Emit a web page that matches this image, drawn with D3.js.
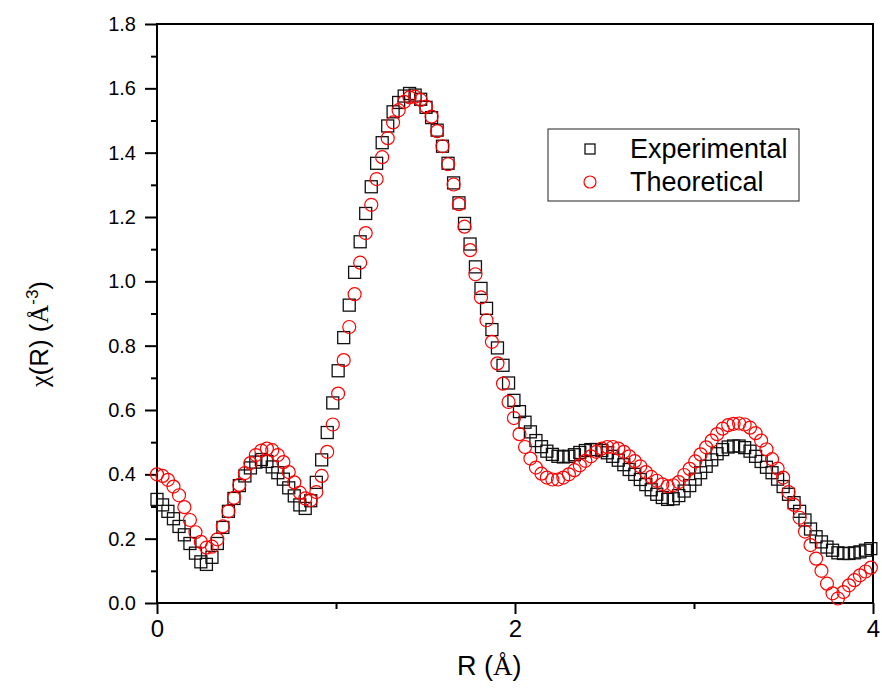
<!DOCTYPE html>
<html>
<head>
<meta charset="utf-8">
<script src="https://cdn.jsdelivr.net/npm/d3@7"></script>
<style>
  body { margin: 0; background: #fff; }
  svg { display: block; font-family: Arial, "Liberation Sans", sans-serif; }
</style>
</head>
<body>
<div id="chart"></div>
<script>
// R grid (Å)
var rValues = [
  0.000, 0.031, 0.061, 0.092, 0.123, 0.153, 0.184, 0.215, 0.245, 0.276,
  0.307, 0.337, 0.368, 0.399, 0.430, 0.460, 0.491, 0.522, 0.552, 0.583,
  0.614, 0.644, 0.675, 0.706, 0.736, 0.767, 0.798, 0.828, 0.859, 0.890,
  0.920, 0.951, 0.982, 1.012, 1.043, 1.074, 1.104, 1.135, 1.166, 1.197,
  1.227, 1.258, 1.289, 1.319, 1.350, 1.381, 1.411, 1.442, 1.473, 1.503,
  1.534, 1.565, 1.595, 1.626, 1.657, 1.687, 1.718, 1.749, 1.779, 1.810,
  1.841, 1.871, 1.902, 1.933, 1.964, 1.994, 2.025, 2.056, 2.086, 2.117,
  2.148, 2.178, 2.209, 2.240, 2.270, 2.301, 2.332, 2.362, 2.393, 2.424,
  2.454, 2.485, 2.516, 2.546, 2.577, 2.608, 2.638, 2.669, 2.700, 2.731,
  2.761, 2.792, 2.823, 2.853, 2.884, 2.915, 2.945, 2.976, 3.007, 3.037,
  3.068, 3.099, 3.129, 3.160, 3.191, 3.221, 3.252, 3.283, 3.313, 3.344,
  3.375, 3.405, 3.436, 3.467, 3.498, 3.528, 3.559, 3.590, 3.620, 3.651,
  3.682, 3.712, 3.743, 3.774, 3.804, 3.835, 3.866, 3.896, 3.927, 3.958,
  3.988
];

var experimental = [
  0.322, 0.305, 0.285, 0.262, 0.238, 0.212, 0.185, 0.155, 0.128, 0.120,
  0.142, 0.185, 0.235, 0.285, 0.325, 0.365, 0.395, 0.420, 0.438, 0.446,
  0.440, 0.423, 0.405, 0.385, 0.358, 0.333, 0.305, 0.294, 0.318, 0.375,
  0.445, 0.530, 0.622, 0.722, 0.825, 0.926, 1.028, 1.123, 1.211, 1.294,
  1.367, 1.431, 1.483, 1.527, 1.556, 1.576, 1.584, 1.579, 1.566, 1.541,
  1.509, 1.470, 1.420, 1.367, 1.306, 1.244, 1.180, 1.116, 1.045, 0.978,
  0.916, 0.850, 0.793, 0.739, 0.684, 0.630, 0.595, 0.562, 0.532, 0.505,
  0.486, 0.472, 0.462, 0.456, 0.454, 0.456, 0.461, 0.468, 0.474, 0.477,
  0.477, 0.474, 0.467, 0.456, 0.444, 0.430, 0.415, 0.400, 0.384, 0.368,
  0.352, 0.338, 0.328, 0.322, 0.324, 0.334, 0.348, 0.365, 0.385, 0.405,
  0.425, 0.445, 0.464, 0.477, 0.485, 0.488, 0.488, 0.483, 0.472, 0.456,
  0.440, 0.422, 0.405, 0.385, 0.362, 0.338, 0.312, 0.285, 0.258, 0.230,
  0.206, 0.190, 0.174, 0.164, 0.156, 0.154, 0.154, 0.156, 0.159, 0.164,
  0.169
];

var theoretical = [
  0.400, 0.395, 0.383, 0.362, 0.335, 0.298, 0.258, 0.220, 0.190, 0.172,
  0.175, 0.198, 0.238, 0.285, 0.327, 0.367, 0.404, 0.435, 0.460, 0.474,
  0.480, 0.475, 0.460, 0.438, 0.407, 0.375, 0.343, 0.325, 0.320, 0.345,
  0.395, 0.470, 0.555, 0.651, 0.755, 0.858, 0.960, 1.058, 1.150, 1.238,
  1.318, 1.386, 1.445, 1.494, 1.532, 1.558, 1.572, 1.574, 1.564, 1.543,
  1.512, 1.467, 1.420, 1.364, 1.301, 1.240, 1.170, 1.097, 1.022, 0.950,
  0.879, 0.812, 0.745, 0.682, 0.625, 0.575, 0.525, 0.485, 0.449, 0.421,
  0.402, 0.390, 0.384, 0.384, 0.390, 0.400, 0.413, 0.428, 0.442, 0.456,
  0.470, 0.480, 0.485, 0.485, 0.480, 0.470, 0.456, 0.441, 0.425, 0.407,
  0.392, 0.380, 0.369, 0.363, 0.366, 0.376, 0.398, 0.417, 0.440, 0.462,
  0.484, 0.505, 0.525, 0.542, 0.553, 0.557, 0.558, 0.555, 0.545, 0.528,
  0.505, 0.478, 0.447, 0.418, 0.390, 0.345, 0.305, 0.265, 0.222, 0.180,
  0.138, 0.100, 0.060, 0.030, 0.014, 0.034, 0.055, 0.071, 0.086, 0.098,
  0.110
];

var xTicks = [0, 2, 4];
var xMinorTicks = [1, 3];
var yTicks = [0, 0.2, 0.4, 0.6, 0.8, 1.0, 1.2, 1.4, 1.6, 1.8];
var yMinorTicks = [0.1, 0.3, 0.5, 0.7, 0.9, 1.1, 1.3, 1.5, 1.7];
var legendLabels = ["Experimental", "Theoretical"];

var width = 882, height = 688;
var margin = { left: 157, right: 9, top: 24, bottom: 85 };

var svg = d3.select("#chart").append("svg")
  .attr("width", width)
  .attr("height", height);

var x = d3.scaleLinear().domain([0, 4]).range([margin.left, width - margin.right]);
var y = d3.scaleLinear().domain([0, 1.8]).range([height - margin.bottom, margin.top]);

// minor ticks first, majors drawn on top
svg.append("g")
  .attr("transform", "translate(0," + y(0) + ")")
  .call(d3.axisBottom(x).tickValues(xMinorTicks).tickSize(6).tickFormat(""))
  .call(function(g) { g.select(".domain").remove(); })
  .selectAll("line").attr("stroke-width", 2);

svg.append("g")
  .attr("transform", "translate(" + x(0) + ",0)")
  .call(d3.axisLeft(y).tickValues(yMinorTicks).tickSize(6).tickFormat(""))
  .call(function(g) { g.select(".domain").remove(); })
  .selectAll("line").attr("stroke-width", 2);

var xAxis = svg.append("g")
  .attr("transform", "translate(0," + y(0) + ")")
  .call(d3.axisBottom(x).tickValues(xTicks).tickSize(11).tickPadding(6).tickFormat(d3.format("d")));
xAxis.select(".domain").remove();
xAxis.selectAll("line").attr("stroke-width", 2);
xAxis.selectAll("text")
  .attr("font-size", 24)
  .attr("font-family", "Arial, 'Liberation Sans', sans-serif")
  .attr("fill", "#000");

var yAxis = svg.append("g")
  .attr("transform", "translate(" + x(0) + ",0)")
  .call(d3.axisLeft(y).tickValues(yTicks).tickSize(12).tickPadding(9).tickFormat(d3.format(".1f")));
yAxis.select(".domain").remove();
yAxis.selectAll("line").attr("stroke-width", 2);
yAxis.selectAll("text")
  .attr("font-size", 20)
  .attr("font-family", "Arial, 'Liberation Sans', sans-serif")
  .attr("fill", "#000");

// frame
svg.append("rect")
  .attr("x", x(0))
  .attr("y", y(1.8))
  .attr("width", x(4) - x(0))
  .attr("height", y(0) - y(1.8))
  .attr("fill", "none")
  .attr("stroke", "#000")
  .attr("stroke-width", 2);

var expData = rValues.map(function(r, i) { return { r: r, v: experimental[i] }; });
var theoData = rValues.map(function(r, i) { return { r: r, v: theoretical[i] }; });

var sq = 12;
svg.append("g").selectAll("rect")
  .data(expData)
  .join("rect")
  .attr("x", function(d) { return x(d.r) - sq / 2; })
  .attr("y", function(d) { return y(d.v) - sq / 2; })
  .attr("width", sq)
  .attr("height", sq)
  .attr("fill", "none")
  .attr("stroke", "#111")
  .attr("stroke-width", 1.3);

svg.append("g").selectAll("circle")
  .data(theoData)
  .join("circle")
  .attr("cx", function(d) { return x(d.r); })
  .attr("cy", function(d) { return y(d.v); })
  .attr("r", 6.5)
  .attr("fill", "none")
  .attr("stroke", "#ff0000")
  .attr("stroke-width", 1.2);

// legend
var legend = svg.append("g").attr("transform", "translate(548,129)");
legend.append("rect")
  .attr("width", 251)
  .attr("height", 72)
  .attr("fill", "#fff")
  .attr("stroke", "#222")
  .attr("stroke-width", 1);
legend.append("rect")
  .attr("x", 42 - sq / 2 + 1)
  .attr("y", 20 - sq / 2 + 1)
  .attr("width", sq - 2)
  .attr("height", sq - 2)
  .attr("fill", "none")
  .attr("stroke", "#111")
  .attr("stroke-width", 1.3);
legend.append("circle")
  .attr("cx", 42)
  .attr("cy", 53)
  .attr("r", 6)
  .attr("fill", "none")
  .attr("stroke", "#ff0000")
  .attr("stroke-width", 1.2);
legend.selectAll("text.lab")
  .data(legendLabels)
  .join("text")
  .attr("class", "lab")
  .attr("x", 82)
  .attr("y", function(d, i) { return 29 + i * 33; })
  .attr("font-size", 27)
  .attr("fill", "#000")
  .text(function(d) { return d; });

// axis titles
var xTitle = svg.append("text")
  .attr("x", 457)
  .attr("y", 675)
  .attr("font-size", 27)
  .attr("fill", "#000");
xTitle.append("tspan").text("R (");
xTitle.append("tspan").attr("font-family", "'Liberation Serif', 'Times New Roman', serif").text("Å");
xTitle.append("tspan").text(")");

var yTitle = svg.append("text")
  .attr("transform", "translate(48,334) rotate(-90)")
  .attr("text-anchor", "middle")
  .attr("font-size", 26)
  .attr("fill", "#000");
yTitle.append("tspan").attr("font-family", "'Liberation Serif', 'Times New Roman', serif").text("χ");
yTitle.append("tspan").text("(R) (");
yTitle.append("tspan").attr("font-family", "'Liberation Serif', 'Times New Roman', serif").text("Å");
yTitle.append("tspan").attr("font-size", 17).attr("dy", -10).text("-3");
yTitle.append("tspan").attr("dy", 10).text(")");
</script>
</body>
</html>
